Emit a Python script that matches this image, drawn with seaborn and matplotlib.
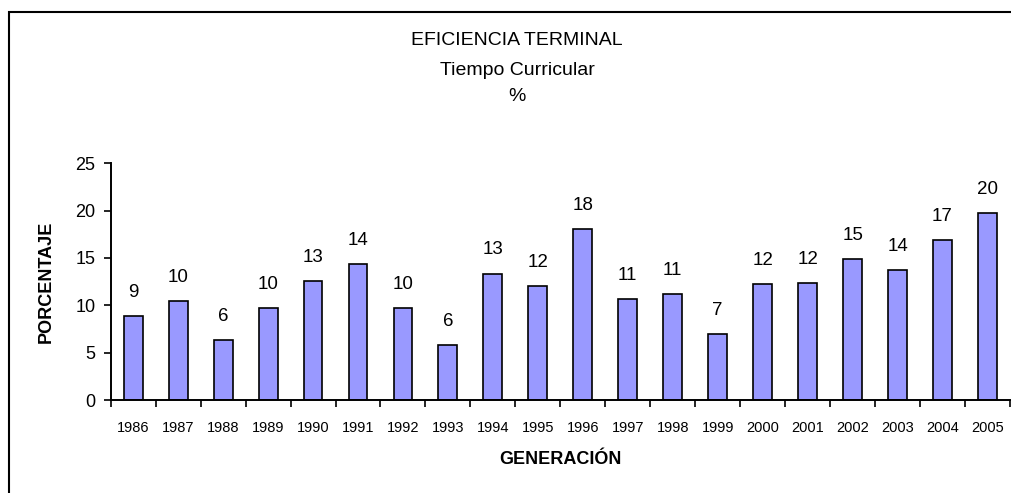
import matplotlib
matplotlib.use("Agg")
import matplotlib.pyplot as plt
from matplotlib.patches import Rectangle
from matplotlib.ticker import FixedLocator
import seaborn as sns
import pandas as pd

# Datos de la grafica
generaciones = ['1986', '1987', '1988', '1989', '1990', '1991', '1992', '1993', '1994', '1995',
                '1996', '1997', '1998', '1999', '2000', '2001', '2002', '2003', '2004', '2005']
porcentaje = [8.9, 10.46, 6.37, 9.68, 12.57, 14.33, 9.68, 5.81, 13.35, 12.04,
              18.03, 10.67, 11.23, 7.0, 12.22, 12.39, 14.93, 13.77, 16.9, 19.79]
titulo = ['EFICIENCIA TERMINAL', 'Tiempo Curricular', '%']

df = pd.DataFrame({'Generacion': generaciones, 'Porcentaje': porcentaje})

sns.set_style('ticks')
plt.rcParams['font.family'] = ['Liberation Sans', 'DejaVu Sans']
plt.rcParams['text.color'] = 'black'
plt.rcParams['axes.labelcolor'] = 'black'

fig = plt.figure(figsize=(10.12, 4.93), dpi=100)
ax = fig.add_axes([0.1094, 0.1886, 0.8886, 0.4802])

sns.barplot(data=df, x='Generacion', y='Porcentaje', color='#9999FF', saturation=1,
            edgecolor='black', linewidth=1.2, width=0.42, ax=ax)

# Etiquetas de valor sobre cada barra
for i, v in enumerate(porcentaje):
    ax.annotate(f"{v:.0f}", (i, v), xytext=(0, 17), textcoords='offset points',
                ha='center', va='center', fontsize=13.5, color='black')

ax.set_xlim(-0.5, len(generaciones) - 0.5)
ax.set_ylim(0, 25)
ax.set_yticks([0, 5, 10, 15, 20, 25])

# Marcas del eje x entre categorias
ax.xaxis.set_minor_locator(FixedLocator([i - 0.5 for i in range(len(generaciones) + 1)]))
ax.tick_params(axis='x', which='major', length=0, pad=15, labelsize=10.5, colors='black')
ax.tick_params(axis='x', which='minor', length=5, width=1.2, direction='out', color='black')
ax.tick_params(axis='y', length=5, width=1.2, direction='out', pad=6, labelsize=13, colors='black')

sns.despine(ax=ax)
for s in ['left', 'bottom']:
    ax.spines[s].set_color('black')
    ax.spines[s].set_linewidth(1.4)

ax.set_xlabel('GENERACIÓN', fontsize=13, fontweight='bold', color='black')
ax.set_ylabel('PORCENTAJE', fontsize=13, fontweight='bold', color='black')
ax.xaxis.set_label_coords(0.5, -0.215)
ax.yaxis.set_label_coords(-0.062, 0.5)

# Titulo en tres lineas
ys = [0.9174, 0.858, 0.805]
for t, y in zip(titulo, ys):
    fig.text(0.511, y, t, ha='center', va='center', fontsize=14, color='black')

# Marco exterior
fig.patches.append(Rectangle((9 / 1012, -0.2), 1.2, 1.2 - 12 / 493, transform=fig.transFigure,
                             fill=False, edgecolor='black', linewidth=1.5))

fig.savefig('out.png', dpi=100)
